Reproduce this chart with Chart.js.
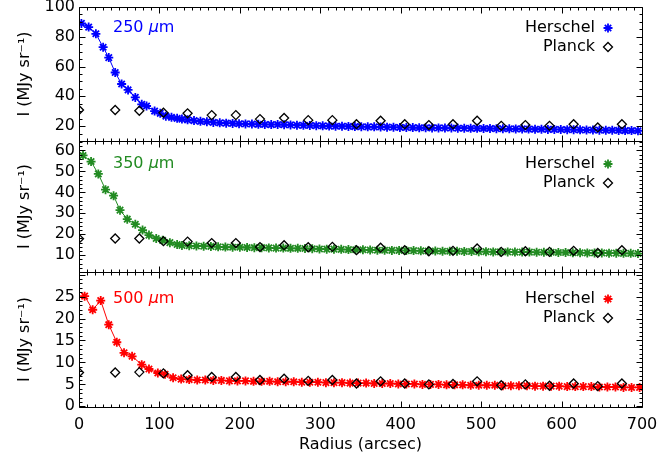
<!DOCTYPE html>
<html>
<head>
<meta charset="utf-8">
<script src="https://cdn.jsdelivr.net/npm/chart.js@4.4.1/dist/chart.umd.min.js"></script>
<style>
  html, body { margin: 0; padding: 0; background: #fff; }
</style>
</head>
<body>
<canvas id="profiles" width="659" height="457"></canvas>
<script>
// Herschel radial profiles (radius in arcsec, intensity in MJy/sr)
const r250 = [3, 12, 21, 30, 37, 45, 53, 61, 70, 78, 84, 94, 101, 108, 115, 122, 128,
  135, 143, 151, 159, 167, 175, 183, 191, 199, 207, 215, 223, 231, 239, 247, 255, 263, 271,
  279, 287, 295, 303, 311, 319, 327, 335, 343, 351, 359, 367, 375, 383, 391, 399, 407, 415,
  423, 431, 439, 447, 455, 463, 471, 479, 487, 495, 503, 511, 519, 527, 535, 543, 551, 559,
  567, 575, 583, 591, 599, 607, 615, 623, 631, 639, 647, 655, 663, 671, 679, 687, 695];
const i250 = [89.0, 86.5, 82.0, 73.0, 66.0, 56.0, 48.3, 44.3, 39.3, 34.6, 33.5, 30.1, 28.6, 26.7, 25.9, 25.2, 24.7,
  24.2, 23.7, 23.2, 22.9, 22.5, 22.2, 22.0, 21.8, 21.6, 21.5, 21.4, 21.2, 21.1, 21.0, 21.1, 20.9, 20.8, 20.6,
  20.5, 20.4, 20.3, 20.2, 20.0, 19.9, 19.9, 19.8, 19.7, 19.6, 19.5, 19.5, 19.4, 19.3, 19.2, 19.1, 19.1, 19.0,
  18.9, 18.9, 18.8, 18.8, 18.7, 18.7, 18.6, 18.6, 18.5, 18.5, 18.4, 18.4, 18.3, 18.2, 18.2, 18.1, 18.1, 18.0,
  17.9, 17.9, 17.8, 17.8, 17.7, 17.6, 17.6, 17.5, 17.4, 17.4, 17.3, 17.2, 17.2, 17.1, 17.0, 17.0, 16.9];

const r350 = [5, 15, 24, 33, 43, 51, 60, 70, 79, 87, 96, 104, 113, 122, 128,
  137, 146, 155, 164, 173, 182, 191, 200, 209, 218, 227, 236, 245, 254, 263, 272, 281, 290, 299, 308,
  317, 326, 335, 344, 353, 362, 371, 380, 389, 398, 407, 416, 425, 434, 443, 452, 461, 470, 479, 488,
  497, 506, 515, 524, 533, 542, 551, 560, 569, 578, 587, 596, 605, 614, 623, 632, 641, 650, 659, 668,
  677, 686, 695];
const i350 = [57.6, 54.7, 48.8, 41.3, 38.4, 31.5, 27.2, 24.8, 22.0, 19.6, 18.0, 17.1, 16.0, 15.1, 14.7,
  14.5, 14.4, 14.3, 14.2, 14.0, 13.9, 13.8, 13.8, 13.7, 13.6, 13.6, 13.5, 13.4, 13.4, 13.3, 13.3, 13.2, 13.1, 13.0, 12.9,
  12.9, 12.8, 12.7, 12.6, 12.6, 12.5, 12.4, 12.4, 12.3, 12.3, 12.2, 12.2, 12.1, 12.0, 12.0, 11.9, 11.9, 11.9, 11.8, 11.8,
  11.7, 11.7, 11.6, 11.6, 11.6, 11.5, 11.5, 11.5, 11.4, 11.4, 11.4, 11.3, 11.3, 11.2, 11.2, 11.1, 11.1, 11.1, 11.0, 11.0,
  10.9, 10.9, 10.8];

const r500 = [7, 17, 27, 37, 47, 56, 66, 78, 87, 98, 107, 117, 127,
  137, 147, 157, 167, 177, 187, 197, 207, 217, 227, 237, 247, 257, 267, 277, 287, 297, 307, 317, 327,
  337, 347, 357, 367, 377, 387, 397, 407, 417, 427, 437, 447, 457, 467, 477, 487, 497, 507, 517, 527,
  537, 547, 557, 567, 577, 587, 597, 607, 617, 627, 637, 647, 657, 667, 677, 687, 697];
const i500 = [25.1, 22.0, 24.1, 18.6, 14.6, 12.2, 11.4, 9.5, 8.5, 7.6, 7.3, 6.5, 6.2,
  6.1, 6.0, 6.0, 5.9, 5.9, 5.8, 5.8, 5.8, 5.7, 5.7, 5.7, 5.6, 5.6, 5.6, 5.5, 5.5, 5.5, 5.4, 5.4, 5.4,
  5.3, 5.3, 5.3, 5.2, 5.2, 5.2, 5.1, 5.1, 5.1, 5.0, 5.0, 5.0, 4.9, 4.9, 4.9, 4.8, 4.8, 4.8, 4.8, 4.7,
  4.7, 4.7, 4.7, 4.6, 4.6, 4.6, 4.6, 4.5, 4.5, 4.5, 4.5, 4.4, 4.4, 4.4, 4.3, 4.3, 4.3];

// Planck profiles, sampled every 30 arcsec
const planckR = [0, 45, 75, 105, 135, 165, 195, 225, 255, 285, 315, 345, 375, 405, 435, 465, 495, 525, 555, 585, 615, 645, 675];
const planck250 = [30.8, 30.8, 30.3, 29.0, 28.6, 27.4, 27.4, 24.7, 25.5, 24.0, 24.0, 21.3, 23.6, 21.3, 20.7, 21.3, 23.6, 20.2, 20.7, 20.2, 21.3, 19.1, 21.3];
const planck350 = [17.9, 18.0, 18.0, 16.7, 16.5, 15.8, 15.8, 13.9, 14.8, 13.8, 14.0, 12.4, 13.6, 12.4, 11.9, 12.1, 13.2, 11.6, 11.9, 11.6, 12.1, 11.1, 12.4];
const planck500 = [7.7, 7.7, 7.8, 7.5, 7.1, 6.7, 6.7, 6.0, 6.3, 5.8, 6.0, 5.2, 5.7, 5.2, 5.0, 5.1, 5.7, 4.8, 5.0, 4.7, 5.2, 4.6, 5.2];

// tick labels
const xTicks = [0, 100, 200, 300, 400, 500, 600, 700];
const yTicks250 = [20, 40, 60, 80, 100];
const yTicks350 = [10, 20, 30, 40, 50, 60];
const yTicks500 = [0, 5, 10, 15, 20, 25];

const FONT = '"DejaVu Sans", sans-serif';
Chart.defaults.font.family = FONT;
Chart.defaults.font.size = 16;
Chart.defaults.color = '#000';

// one entry per panel, top to bottom
const panels = [
  { axis: 'y250', wave: '250', color: '#0000ff', minor: 5, major: 20, dy: 21 },
  { axis: 'y350', wave: '350', color: '#228b22', minor: 2, major: 10, dy: 23 },
  { axis: 'y500', wave: '500', color: '#ff0000', minor: 1, major: 5, dy: 27 }
];

function toPoints(xs, ys) {
  return xs.map((x, i) => ({ x: x, y: ys[i] }));
}

function yAxis(min, max, ticks, weight, height) {
  return {
    type: 'linear',
    position: 'left',
    stack: 'panels',
    stackWeight: height,
    weight: weight,
    min: min,
    max: max,
    grid: { display: false, drawTicks: false },
    border: { display: false },
    ticks: { padding: 4, autoSkip: false, includeBounds: false },
    afterBuildTicks: s => { s.ticks = ticks.map(v => ({ value: v })); },
    afterFit: s => { s.width = 79; s.paddingTop = 0; s.paddingBottom = 0; },
    title: { display: true, text: 'I (MJy sr\u207B\u00B9)', padding: { top: 15, bottom: 0 } }
  };
}

function herschel(xs, ys, axis, color) {
  return {
    data: toPoints(xs, ys), yAxisID: axis,
    showLine: true, borderColor: color, borderWidth: 1,
    pointStyle: 'star', pointRadius: 4.5, pointBorderWidth: 1.8,
    pointBorderColor: color, pointBackgroundColor: color, order: 2
  };
}

function planck(ys, axis) {
  return {
    data: toPoints(planckR, ys), yAxisID: axis,
    showLine: false,
    pointStyle: 'rectRot', pointRadius: 4.5, pointBorderWidth: 1.3,
    pointBorderColor: '#000', pointBackgroundColor: 'rgba(0,0,0,0)', order: 1
  };
}

// box, inward ticks and in-panel labels like the IDL original
const decor = {
  id: 'decor',
  afterDatasetsDraw(chart) {
    const { ctx, scales } = chart;
    const xs = scales.x;
    const left = Math.round(xs.left) + 0.5;
    const right = Math.round(xs.right) + 0.5;
    ctx.save();
    panels.forEach(p => {
      const ys = scales[p.axis];
      const top = Math.round(ys.top) + 0.5;
      const bottom = Math.round(ys.bottom) + 0.5;
      ctx.strokeStyle = '#000';
      ctx.lineWidth = 1;
      ctx.beginPath();
      ctx.rect(left, top, right - left, bottom - top);
      for (let v = 0; v <= 700; v += 10) {
        const px = Math.round(xs.getPixelForValue(v)) + 0.5;
        const len = v % 100 === 0 ? 6 : 3;
        ctx.moveTo(px, bottom); ctx.lineTo(px, bottom - len);
        ctx.moveTo(px, top); ctx.lineTo(px, top + len);
      }
      for (let k = Math.ceil(ys.min / p.minor); k * p.minor <= ys.max; k++) {
        const v = k * p.minor;
        const py = Math.round(ys.getPixelForValue(v)) + 0.5;
        const len = v % p.major === 0 ? 6 : 3;
        ctx.moveTo(left, py); ctx.lineTo(left + len, py);
        ctx.moveTo(right, py); ctx.lineTo(right - len, py);
      }
      ctx.stroke();

      // wavelength label
      const ty = ys.top + p.dy;
      ctx.textBaseline = 'middle';
      ctx.textAlign = 'left';
      ctx.fillStyle = p.color;
      let tx = 113;
      ctx.font = '16px ' + FONT;
      ctx.fillText(p.wave + ' ', tx, ty);
      tx += ctx.measureText(p.wave + ' ').width;
      ctx.font = 'italic 16px ' + FONT;
      ctx.fillText('\u03BC', tx, ty);
      tx += ctx.measureText('\u03BC').width;
      ctx.font = '16px ' + FONT;
      ctx.fillText('m', tx, ty);

      // legend
      ctx.textAlign = 'right';
      ctx.fillStyle = '#000';
      ctx.fillText('Herschel', 595, ty);
      ctx.fillText('Planck', 595, ty + 19);
      ctx.strokeStyle = p.color;
      ctx.fillStyle = p.color;
      ctx.lineWidth = 1.8;
      Chart.helpers.drawPoint(ctx, { pointStyle: 'star', radius: 4.5, borderWidth: 1.8, rotation: 0 }, 608, ty);
      ctx.strokeStyle = '#000';
      ctx.fillStyle = 'rgba(0,0,0,0)';
      ctx.lineWidth = 1.3;
      Chart.helpers.drawPoint(ctx, { pointStyle: 'rectRot', radius: 4.5, borderWidth: 1.3, rotation: 0 }, 608, ty + 19);
    });
    ctx.restore();
  }
};

new Chart(document.getElementById('profiles'), {
  type: 'scatter',
  data: {
    datasets: [
      planck(planck250, 'y250'),
      herschel(r250, i250, 'y250', '#0000ff'),
      planck(planck350, 'y350'),
      herschel(r350, i350, 'y350', '#228b22'),
      planck(planck500, 'y500'),
      herschel(r500, i500, 'y500', '#ff0000')
    ]
  },
  options: {
    responsive: false,
    animation: false,
    devicePixelRatio: 1,
    layout: { padding: { left: 0, right: 17, top: 7, bottom: 0 } },
    plugins: { legend: { display: false }, tooltip: { enabled: false } },
    scales: {
      x: {
        type: 'linear',
        min: 0,
        max: 700,
        grid: { display: false, drawTicks: false },
        border: { display: false },
        ticks: { padding: 8, autoSkip: false, maxRotation: 0, includeBounds: false },
        afterBuildTicks: s => { s.ticks = xTicks.map(v => ({ value: v })); },
        afterFit: s => { s.height = 50; s.paddingRight = 0; },
        title: { display: true, text: 'Radius (arcsec)', padding: { top: 0, bottom: 3 } }
      },
      y250: yAxis(10, 100, yTicks250, 3, 134),
      y350: yAxis(2, 64.5, yTicks350, 2, 131),
      y500: yAxis(-0.15, 30.6, yTicks500, 1, 135)
    }
  },
  plugins: [decor]
});
</script>
</body>
</html>
